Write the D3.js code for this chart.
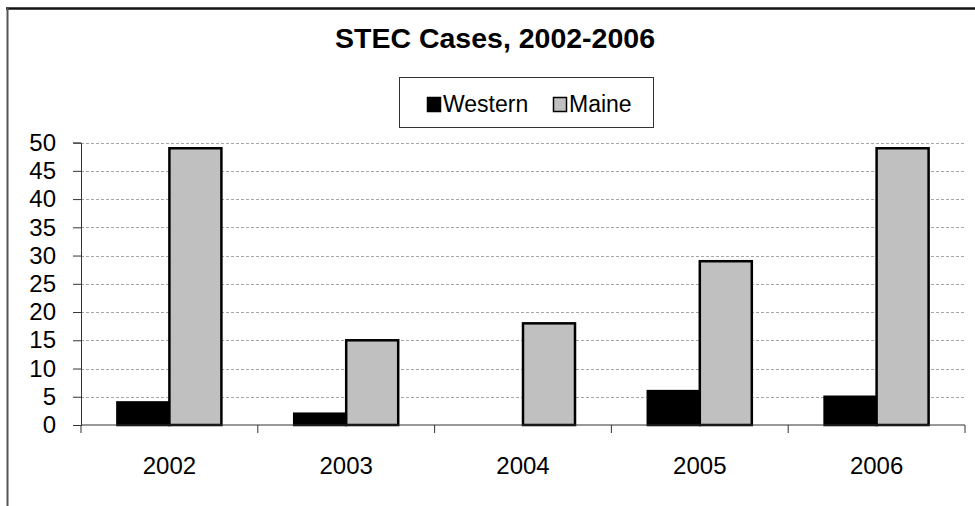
<!DOCTYPE html>
<html>
<head>
<meta charset="utf-8">
<script src="https://cdn.jsdelivr.net/npm/d3@7"></script>
<style>
  body { margin: 0; background: #fff; }
  svg { display: block; font-family: Arial, "Liberation Sans", sans-serif; }
  .grid line { stroke: #a6a6a6; stroke-dasharray: 3,2; }
  .axis path, .axis line { stroke: #333; }
</style>
</head>
<body>
<svg id="chart" width="975" height="506"></svg>
<script>
var years = ["2002", "2003", "2004", "2005", "2006"];
var seriesNames = ["Western", "Maine"];
var western = [4, 2, 0, 6, 5];
var maine = [49, 15, 18, 29, 49];
var colors = ["#000000", "#c0c0c0"];
var yTicks = [0, 5, 10, 15, 20, 25, 30, 35, 40, 45, 50];

var svg = d3.select("#chart");

// outer frame
svg.append("line").attr("x1", 6).attr("x2", 975).attr("y1", 8.5).attr("y2", 8.5)
    .attr("stroke", "#111").attr("stroke-width", 2.5);
svg.append("line").attr("x1", 7.5).attr("x2", 7.5).attr("y1", 8).attr("y2", 506)
    .attr("stroke", "#555").attr("stroke-width", 2);

var plotLeft = 81, plotRight = 965, plotTop = 142.6, plotBottom = 425;

var x0 = d3.scaleBand().domain(years).range([plotLeft, plotRight]);
var x1 = d3.scaleBand().domain(seriesNames).range([0, x0.bandwidth()]).paddingOuter(0.7);
var y = d3.scaleLinear().domain([0, 50]).range([plotBottom, plotTop]);

// gridlines
svg.append("g").attr("class", "grid")
    .selectAll("line").data(yTicks.slice(1)).enter().append("line")
    .attr("x1", plotLeft).attr("x2", plotRight)
    .attr("y1", function(d){ return Math.round(y(d)) + 0.5; })
    .attr("y2", function(d){ return Math.round(y(d)) + 0.5; });

// bars
var rows = years.map(function(yr, i){ return {year: yr, values: [western[i], maine[i]]}; });
var groups = svg.append("g").selectAll("g").data(rows).enter().append("g")
    .attr("transform", function(d){ return "translate(" + x0(d.year) + ",0)"; });
groups.selectAll("rect")
    .data(function(d){ return d.values.map(function(v, j){ return {name: seriesNames[j], value: v, idx: j}; }).filter(function(e){ return e.value > 0; }); })
    .enter().append("rect")
    .attr("x", function(d){ return x1(d.name); })
    .attr("width", x1.bandwidth())
    .attr("y", function(d){ return y(d.value); })
    .attr("height", function(d){ return y(0) - y(d.value); })
    .attr("fill", function(d){ return colors[d.idx]; })
    .attr("stroke", "#000").attr("stroke-width", 2.5);

// y axis
var yAxis = svg.append("g").attr("class", "axis")
    .attr("transform", "translate(" + plotLeft + ",0)")
    .call(d3.axisLeft(y).tickValues(yTicks).tickSize(8).tickPadding(17));
yAxis.selectAll("text").attr("font-size", 24).attr("fill", "#000")
    .attr("font-family", "Arial, 'Liberation Sans', sans-serif");

// x axis
var xAxis = svg.append("g").attr("class", "axis")
    .attr("transform", "translate(0," + plotBottom + ")");
xAxis.append("line").attr("x1", plotLeft).attr("x2", plotRight).attr("y1", 0).attr("y2", 0);
xAxis.selectAll("line.tick").data(years.concat(["end"])).enter().append("line")
    .attr("class", "tick")
    .attr("x1", function(d){ return d === "end" ? plotRight : x0(d); })
    .attr("x2", function(d){ return d === "end" ? plotRight : x0(d); })
    .attr("y1", 0).attr("y2", 8);
xAxis.selectAll("text").data(years).enter().append("text")
    .attr("x", function(d){ return x0(d) + x0.bandwidth() / 2; })
    .attr("y", 49)
    .attr("text-anchor", "middle")
    .attr("font-size", 24)
    .text(function(d){ return d; });

// title
svg.append("text").attr("x", 495).attr("y", 48)
    .attr("text-anchor", "middle")
    .attr("font-size", 28.5).attr("font-weight", "bold")
    .text("STEC Cases, 2002-2006");

// legend
var legend = svg.append("g");
legend.append("rect").attr("x", 399.5).attr("y", 77.5).attr("width", 254).attr("height", 50)
    .attr("fill", "#fff").attr("stroke", "#333");
var legendX = [427, 553];
seriesNames.forEach(function(name, i){
    legend.append("rect").attr("x", legendX[i] + 0.5).attr("y", 97.5).attr("width", 13).attr("height", 14)
        .attr("fill", colors[i]).attr("stroke", "#000").attr("stroke-width", 1.5);
    legend.append("text").attr("x", legendX[i] + 16).attr("y", 112)
        .attr("font-size", 23).text(name);
});
</script>
</body>
</html>
